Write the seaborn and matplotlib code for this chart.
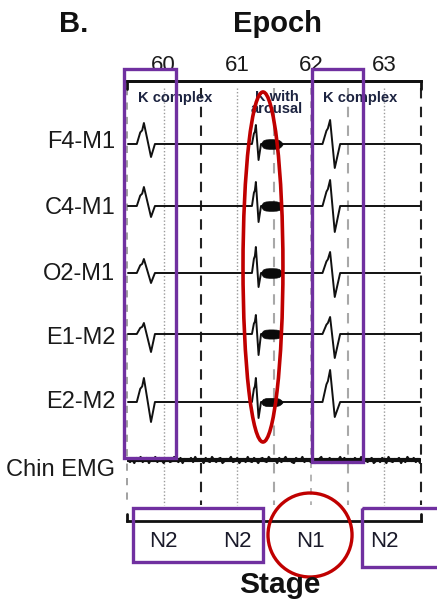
import numpy as np
import pandas as pd
import matplotlib
matplotlib.use("Agg")
import matplotlib.pyplot as plt
from matplotlib.patches import Rectangle, Ellipse
import seaborn as sns

# ---------------- data ----------------
channels = ["F4-M1", "C4-M1", "O2-M1", "E1-M2", "E2-M2", "Chin EMG"]
baselines = [0, 62, 129, 190, 258, 316]          # trace offsets (display units)
label_pos = [-4.5, 61.5, 127, 191, 256, 323.5]   # channel label positions
epochs = ["60", "61", "62", "63"]
epoch_centers = [15, 45, 75, 105]                # seconds
stages = ["N2", "N2", "N1", "N2"]

# K-complex timing (s): rise start, shoulder, peak, trough, return
k1_times = [4.0, 5.4, 6.2, 6.9, 9.8, 11.4]
ka_times = [51.0, 51.8, 52.2, 52.6, 53.7, 54.7]
k2_times = [79.8, 81.4, 82.0, 82.9, 84.8, 87.0]
k_shape = [0.0, 0.55, 0.65, 1.0, -1.0, 0.0]

# (peak up, trough down) amplitudes per EEG/EOG channel
k1_amp = [(21, 13), (19, 11), (14, 10), (11, 18), (24, 20)]
ka_amp = [(19, 16), (24, 16), (26, 14), (19, 21), (24, 16)]
k2_amp = [(24, 24), (26, 26), (21, 24), (17, 24), (32, 15)]

# arousal burst envelope (s, half thickness)
burst_t = [54.8, 55.5, 56.5, 58.0, 59.5, 61.0, 62.0, 62.8, 63.4]
burst_env = [1.0, 3.5, 4.5, 4.8, 4.8, 4.6, 4.0, 2.5, 0.8]
burst_scale = [1.0, 1.0, 1.0, 0.95, 0.85]

emg_noise = [0, 2, -1, 3, -2, 1, -3, 2, 0, -2, 3, -1, 1, -3, 2, -2, 0, 3, -1, -2,
             2, 1, -3, 0, 2, -2, 3, -1, 0, 1, -2, 2, -3, 1, 0, -1, 3, -2, 1, 2,
             -3, 0, 2, -1, -2, 3, 1, -1, 0, -3, 2, 1, -2, 3, 0, -1, 2, -3, 1, 2,
             -2, 0, 3, -1, -2, 1, 2, -3, 0, 1, -1, 3, -2, 2, 0, -3, 1, -1, 2, 3,
             -2, 0, 1, -3, 2, -1, 0, 2, -2, 3, 1, -1, -3, 2, 0, 1, -2, 3, -1, 2,
             0, -3, 1, -2, 2, 1, -1, 3, -2, 0, 2, -3, 1, -1, 2, 0, -2, 3, 1, -1,
             2, -2, 0, 3, -3, 1, 2, -1, 0, -2, 3, -1, 2, -3, 0, 1, -2, 2, -1, 3]

# ---------------- figure ----------------
sns.set_theme(style="white")
plt.rcParams["font.family"] = ["Liberation Sans", "DejaVu Sans"]

W, H = 437, 605
fig = plt.figure(figsize=(W / 100, H / 100), dpi=100)
ax = fig.add_axes([127 / W, 1 - 521 / H, 294 / W, 440 / H])
ax.set_xlim(0, 120)
ax.set_ylim(377, -63)
ax.set_facecolor("white")

# vertical epoch/guide lines
vlines = [
    (0, "#9a9a9a", (0, (4, 4)), 1.3),
    (15, "#9a9a9a", (0, (1, 1.5)), 1.0),
    (30, "#222222", (0, (5, 4)), 1.5),
    (45, "#9a9a9a", (0, (1, 1.5)), 1.0),
    (60, "#a8a8a8", (0, (5, 4)), 1.5),
    (75, "#a8a8a8", (0, (4, 4)), 1.2),
    (90, "#a8a8a8", (0, (5, 4)), 1.5),
    (105, "#9a9a9a", (0, (1, 1.5)), 1.0),
    (120, "#222222", (0, (5, 4)), 1.5),
]
for x, c, ls, lw in vlines:
    ax.plot([x, x], [-56, 361], color=c, linestyle=ls, lw=lw, zorder=1, clip_on=False)


def k_wave(times, amp):
    up, down = amp
    vals = [s * up if s > 0 else s * down for s in k_shape]
    return list(times), vals


for i in range(5):
    b = baselines[i]
    t1, v1 = k_wave(k1_times, k1_amp[i])
    ta, va = k_wave(ka_times, ka_amp[i])
    t2, v2 = k_wave(k2_times, k2_amp[i])
    ts = [0.4] + t1 + ta + [63.5] + t2 + [119.6]
    vs = [0] + v1 + va + [0] + v2 + [0]
    df = pd.DataFrame({"t": ts, "y": [b - v for v in vs]})
    sns.lineplot(data=df, x="t", y="y", ax=ax, color="#111111", lw=1.4,
                 sort=False, estimator=None, zorder=3)
    env = np.array(burst_env) * burst_scale[i]
    ax.fill_between(burst_t, b - env, b + env, color="#0a0a0a", lw=0.5,
                    ec="#0a0a0a", zorder=3)

# chin EMG
emg_t = np.linspace(0.4, 119.6, len(emg_noise))
emg_df = pd.DataFrame({"t": emg_t, "y": [baselines[5] + n for n in emg_noise]})
sns.lineplot(data=emg_df, x="t", y="y", ax=ax, color="#111111", lw=1.6,
             sort=False, estimator=None, zorder=3)
ax.plot([0.4, 119.6], [baselines[5], baselines[5]], color="#111111", lw=3.0, zorder=3)

# axes styling
for s in ["left", "right"]:
    ax.spines[s].set_visible(False)
for s in ["top", "bottom"]:
    ax.spines[s].set_color("#111111")
    ax.spines[s].set_linewidth(2.0)

ax.set_xticks(epoch_centers, labels=stages)
ax.set_yticks(label_pos, labels=channels)
ax.tick_params(axis="x", length=0, pad=7.5, labelsize=16, colors="#1a1a2a")
ax.tick_params(axis="y", length=0, pad=8.5, labelsize=17, colors="#1a1a1a")
ax.set_xlabel("")
ax.set_ylabel("")

sec = ax.secondary_xaxis("top")
sec.set_xticks(epoch_centers, labels=epochs)
sec.tick_params(length=0, pad=3.5, labelsize=16, colors="#1a1a1a")
sec.spines["top"].set_linewidth(2.0)
sec.spines["top"].set_color("#111111")

# end ticks on axis lines
for x in [0, 120]:
    ax.plot([x, x], [-63, -55], color="#111111", lw=2, clip_on=False, zorder=4)
    ax.plot([x, x], [377, 370], color="#111111", lw=2, clip_on=False, zorder=4)

# K complex annotations
ann_kw = dict(ha="center", va="center", fontsize=10.5, fontweight="bold",
              color="#1c2340", zorder=5)
ax.text(19.6, -46, "K complex", **ann_kw)
ax.text(61.2, -41, "K with\narousal", linespacing=0.9, **ann_kw)
ax.text(95.1, -46, "K complex", **ann_kw)

# highlight shapes
purple = "#7030A0"
red = "#C00000"
for (x0, y0, w, h) in [(-1.2, -75, 21.2, 389), (75.5, -75, 20.8, 393),
                       (2.4, 364, 53.1, 54), (95.9, 364, 31.9, 59)]:
    ax.add_patch(Rectangle((x0, y0), w, h, fill=False, ec=purple, lw=2.4,
                           clip_on=False, zorder=6))
ax.add_patch(Ellipse((55.5, 123), 16.3, 350, fill=False, ec=red, lw=2.6,
                     clip_on=False, zorder=6))
ax.add_patch(Ellipse((74.7, 391), 34.3, 84, fill=False, ec=red, lw=2.4,
                     clip_on=False, zorder=6))

# titles
fig.text(74 / W, 1 - 32 / H, "B.", ha="center", va="baseline", fontsize=21,
         fontweight="bold", color="#111111")
fig.text(277 / W, 1 - 32 / H, "Epoch", ha="center", va="baseline", fontsize=21,
         fontweight="bold", color="#111111")
fig.text(280 / W, 1 - 593 / H, "Stage", ha="center", va="baseline", fontsize=21.5,
         fontweight="bold", color="#111111")

fig.savefig("out.png", dpi=100, facecolor="white")
